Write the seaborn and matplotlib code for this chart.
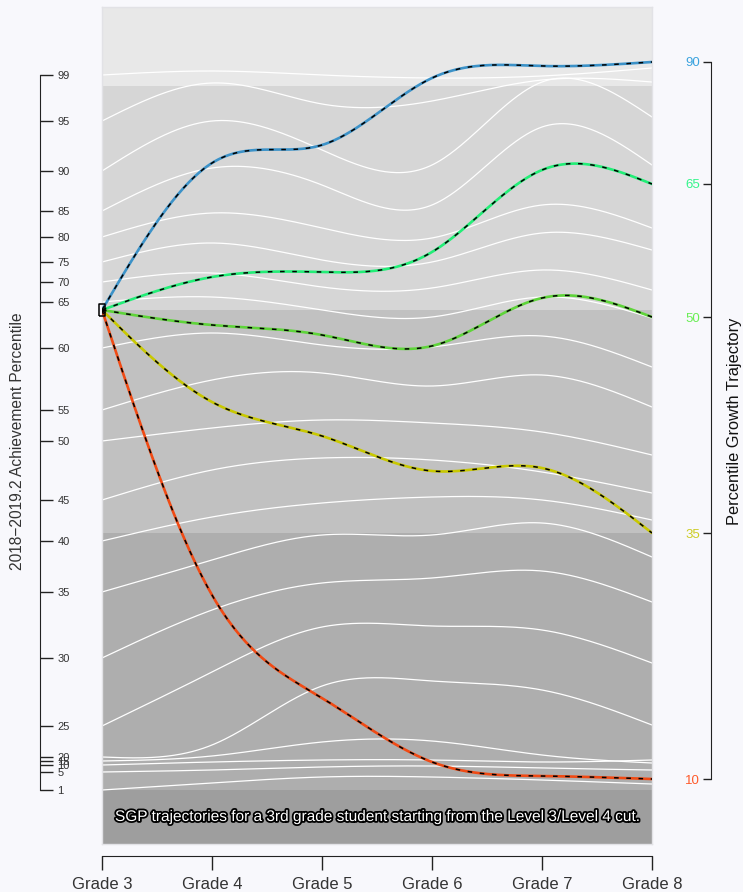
import numpy as np
import pandas as pd
import matplotlib
matplotlib.use('Agg')
import matplotlib.pyplot as plt
import matplotlib.patheffects as pe
from matplotlib.path import Path
import seaborn as sns

# ── data ─────────────────────────────────────────────────────
grades = [3, 4, 5, 6, 7, 8]
grade_labels = ['Grade 3', 'Grade 4', 'Grade 5', 'Grade 6', 'Grade 7', 'Grade 8']

# achievement percentile curves (scale score by grade)
pct_levels = [99, 95, 90, 85, 80, 75, 70, 65, 60, 55, 50, 45, 40, 35, 30, 25, 20, 15, 10, 5, 1]
pct_99 = [925, 929, 925, 922, 924, 932]
pct_95 = [879, 917, 896, 899, 920, 918]
pct_90 = [829, 879, 850, 835, 918, 883]
pct_85 = [789, 832, 815, 795, 873, 835]
pct_80 = [763, 787, 772, 762, 795, 772]
pct_75 = [738, 757, 740, 738, 767, 750]
pct_70 = [718, 727, 713, 712, 730, 710]
pct_65 = [698, 703, 690, 683, 703, 682]
pct_60 = [652, 667, 655, 653, 664, 633]
pct_55 = [590, 620, 627, 614, 625, 593]
pct_50 = [559, 572, 580, 577, 568, 545]
pct_45 = [500, 530, 542, 540, 528, 507]
pct_40 = [459, 483, 497, 503, 500, 480]
pct_35 = [408, 440, 465, 465, 477, 443]
pct_30 = [342, 390, 417, 422, 429, 398]
pct_25 = [274, 328, 373, 374, 370, 337]
pct_20 = [243, 255, 314, 319, 310, 275]
pct_15 = [239, 244, 258, 259, 245, 237]
pct_10 = [235, 238, 240, 240, 238, 240]
pct_05 = [228, 230, 233, 234, 232, 230]
pct_01 = [210, 217, 223, 223, 220, 216]
pct_curves = [pct_99, pct_95, pct_90, pct_85, pct_80, pct_75, pct_70, pct_65,
              pct_60, pct_55, pct_50, pct_45, pct_40, pct_35, pct_30, pct_25,
              pct_20, pct_15, pct_10, pct_05, pct_01]

# SGP growth trajectories starting at the Level 3/Level 4 cut
traj_sgp = [90, 65, 50, 35, 10]
traj_90 = [690, 837, 855, 922, 934, 938]
traj_65 = [690, 723, 728, 748, 830, 816]
traj_50 = [690, 675, 665, 654, 702, 683]
traj_35 = [690, 598, 564, 529, 532, 467]
traj_10 = [690, 405, 302, 238, 224, 221]
traj_curves = [traj_90, traj_65, traj_50, traj_35, traj_10]
traj_colors = ['#3C92C8', '#22EE77', '#5FD43A', '#C8C800', '#F04A14']
label_colors = ['#3BA3DE', '#33F58A', '#6AEE55', '#CCCC22', '#FF5A2A']

# achievement level cuts (scale score), plot limits
level_cuts = [156, 210, 467, 690, 914, 993]
level_shades = ['#9E9E9E', '#AEAEAE', '#C1C1C1', '#D6D6D6', '#E8E8E8']

note = 'SGP trajectories for a 3rd grade student starting from the Level 3/Level 4 cut.'


def natural_spline(x, y, xs):
    x = np.asarray(x, float); y = np.asarray(y, float)
    n = len(x); h = np.diff(x)
    A = np.zeros((n, n)); b = np.zeros(n)
    A[0, 0] = A[-1, -1] = 1
    for i in range(1, n - 1):
        A[i, i - 1] = h[i - 1]; A[i, i] = 2 * (h[i - 1] + h[i]); A[i, i + 1] = h[i]
        b[i] = 3 * ((y[i + 1] - y[i]) / h[i] - (y[i] - y[i - 1]) / h[i - 1])
    c = np.linalg.solve(A, b)
    out = np.empty_like(xs)
    for k, xv in enumerate(xs):
        i = min(np.searchsorted(x, xv, side='right') - 1, n - 2)
        dx = xv - x[i]
        bb = (y[i + 1] - y[i]) / h[i] - h[i] * (2 * c[i] + c[i + 1]) / 3
        d = (c[i + 1] - c[i]) / (3 * h[i])
        out[k] = y[i] + bb * dx + c[i] * dx ** 2 + d * dx ** 3
    return out


xs = np.linspace(3, 8, 300)
pct_df = pd.concat([pd.DataFrame({'grade': xs, 'score': natural_spline(grades, v, xs), 'pct': p})
                    for p, v in zip(pct_levels, pct_curves)], ignore_index=True)
traj_df = pd.concat([pd.DataFrame({'grade': xs, 'score': natural_spline(grades, v, xs), 'sgp': str(s)})
                     for s, v in zip(traj_sgp, traj_curves)], ignore_index=True)

# ── figure ───────────────────────────────────────────────────
sns.set_style('white')
plt.rcParams['font.family'] = ['Liberation Sans', 'DejaVu Sans']
BG = '#F8F8FC'
W, H = 743, 892
fig = plt.figure(figsize=(W / 100, H / 100), dpi=100, facecolor=BG)

px = lambda v: v / W
py = lambda v: v / H
pos = [px(102), 1 - py(844), px(550), py(837)]
ylim = (level_cuts[0], level_cuts[-1])

ax = fig.add_axes(pos)
ax.set_xlim(3, 8)
ax.set_ylim(*ylim)

for lo, hi, col in zip(level_cuts[:-1], level_cuts[1:], level_shades):
    ax.axhspan(lo, hi, color=col, lw=0, zorder=0)

sns.lineplot(data=pct_df, x='grade', y='score', units='pct', estimator=None,
             color='white', lw=0.9, ax=ax, zorder=2)
sns.lineplot(data=traj_df, x='grade', y='score', hue='sgp', palette=traj_colors,
             estimator=None, lw=1.9, ax=ax, legend=False, zorder=3)
for s in traj_sgp:
    sub = traj_df[traj_df['sgp'] == str(s)]
    ax.plot(sub['grade'], sub['score'], color='black', lw=1.1, ls=(0, (3, 5)), zorder=4)

rect = Path([(-0.55, -1), (0.55, -1), (0.55, 1), (-0.55, 1), (-0.55, -1)])
ax.plot([grades[0]], [traj_90[0]], marker=rect, ms=8, mfc='none', mec='black',
        mew=1.1, clip_on=False, zorder=5)

ax.text(5.5, (level_cuts[0] + level_cuts[1]) / 2, note, ha='center', va='center',
        color='white', fontsize=11.1, zorder=6,
        path_effects=[pe.withStroke(linewidth=2.6, foreground='black')])

ax.set_xticks([]); ax.set_yticks([])
ax.set_xlabel(''); ax.set_ylabel('')
for sp in ax.spines.values():
    sp.set_color('#E2E2E6'); sp.set_linewidth(1)

# left axis: achievement percentiles
g3 = [v[0] for v in pct_curves]
axL = fig.add_axes([0, pos[1], px(40), pos[3]])
axL.set_ylim(*ylim)
axL.patch.set_alpha(0)
for k in ['left', 'top', 'bottom']:
    axL.spines[k].set_visible(False)
axL.spines['right'].set_bounds(min(g3), max(g3))
axL.spines['right'].set_color('#222222')
axL.yaxis.tick_right()
axL.set_yticks(g3)
axL.set_yticklabels([str(p) for p in pct_levels])
axL.tick_params(axis='y', right=True, left=False, direction='out', length=9.5,
                width=1, pad=3, labelsize=8, labelcolor='#333333', color='#222222')
axL.set_xticks([])

# right axis: growth trajectories
g8 = [v[-1] for v in traj_curves]
axR = fig.add_axes([px(711), pos[1], px(30), pos[3]])
axR.set_ylim(*ylim)
axR.patch.set_alpha(0)
for k in ['right', 'top', 'bottom']:
    axR.spines[k].set_visible(False)
axR.spines['left'].set_bounds(min(g8), max(g8))
axR.spines['left'].set_color('#222222')
axR.yaxis.tick_left()
axR.set_yticks(g8)
axR.set_yticklabels([str(s) for s in traj_sgp])
axR.tick_params(axis='y', left=True, right=False, direction='out', length=6,
                width=1, pad=2, labelsize=9.5, color='#222222')
for lab, col in zip(axR.get_yticklabels(), label_colors):
    lab.set_color(col)
axR.set_xticks([])

# bottom axis: grades
axB = fig.add_axes([pos[0], 1 - py(856), pos[2], 0.0001])
axB.set_xlim(3, 8)
axB.patch.set_alpha(0)
for k in ['left', 'right', 'top']:
    axB.spines[k].set_visible(False)
axB.spines['bottom'].set_color('#222222')
axB.set_xticks(grades)
axB.set_xticklabels(grade_labels)
axB.set_yticks([])
axB.tick_params(axis='x', bottom=True, direction='out', length=10, width=1, pad=5,
                labelsize=12, labelcolor='#333333', color='#222222')

fig.text(px(18), 1 - py(441), '2018\u22122019.2 Achievement Percentile', rotation=90,
         ha='center', va='center', fontsize=11.2, color='#333333')
fig.text(px(734), 1 - py(421), 'Percentile Growth Trajectory', rotation=90,
         ha='center', va='center', fontsize=11.8, color='#111111')

fig.savefig('out.png', dpi=100, facecolor=BG)
